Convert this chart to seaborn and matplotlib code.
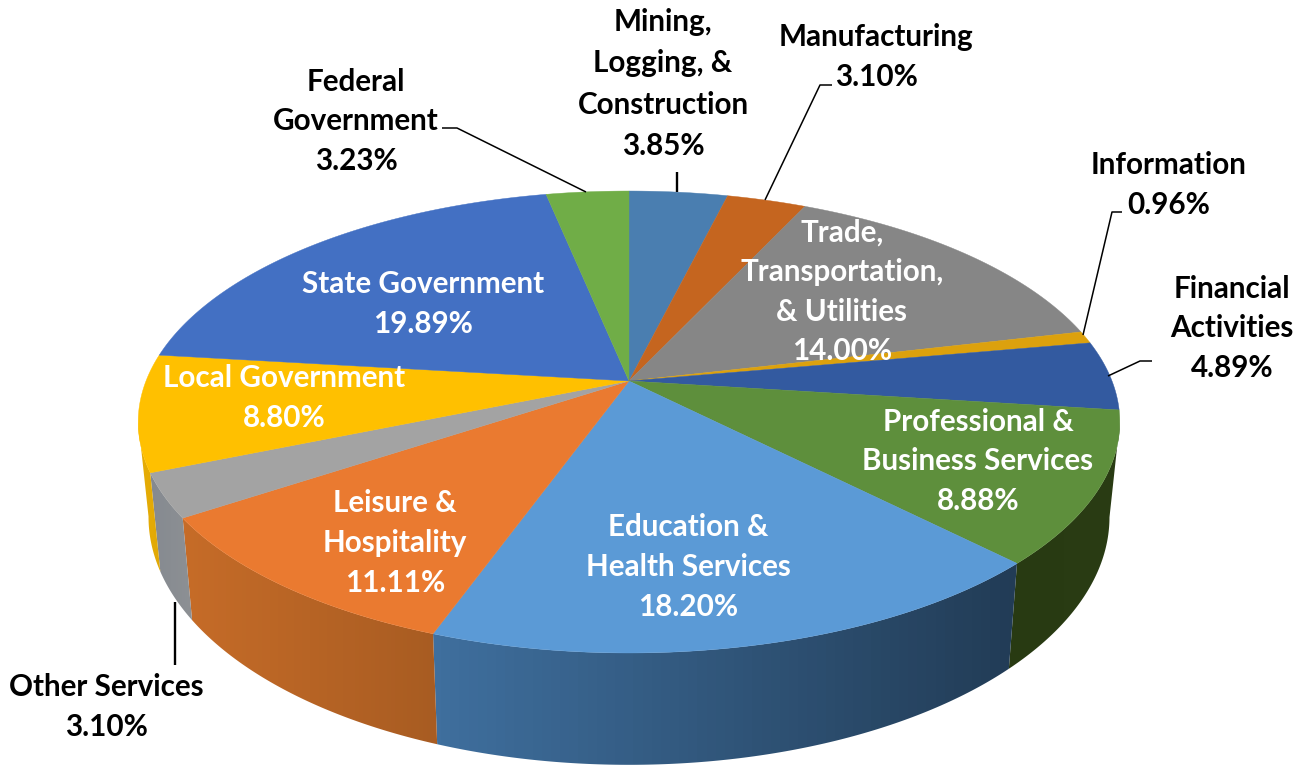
import numpy as np
import seaborn as sns
import matplotlib.pyplot as plt
from matplotlib.colors import LinearSegmentedColormap
from matplotlib.patches import Polygon

sectors = ['Mining,\nLogging, &\nConstruction', 'Manufacturing', 'Trade,\nTransportation,\n& Utilities',
           'Information', 'Financial\nActivities', 'Professional &\nBusiness Services',
           'Education &\nHealth Services', 'Leisure &\nHospitality', 'Other Services',
           'Local Government', 'State Government', 'Federal\nGovernment']
shares = [3.85, 3.10, 14.00, 0.96, 4.89, 8.88, 18.20, 11.11, 3.10, 8.80, 19.89, 3.23]
top_colors = ['#4a7eb0', '#c5651f', '#868686', '#dca10d', '#335aa0', '#5e8f3c',
              '#5b9ad6', '#ea7a30', '#a3a3a3', '#ffc000', '#4370c3', '#70ad47']
# wall shading, left end and right end of each slice's wall
wall_left = ['#3a5f85', '#94501a', '#666666', '#a67a0a', '#26437a', '#283a12',
             '#3f6f9e', '#c66c28', '#858a90', '#e8ae06', '#33548f', '#55823a']
wall_right = ['#3a5f85', '#94501a', '#666666', '#a67a0a', '#26437a', '#2a3c14',
              '#223c56', '#a85c22', '#8d9094', '#e0a805', '#33548f', '#55823a']

sns.set_theme(style='white')
plt.rcParams['font.family'] = ['Lato', 'DejaVu Sans']

# where the outside labels and the labels on the slices go (centre x, centre y)
label_pos = [(663, 84), (876, 57), (842, 292), (1169, 185), (1232, 328), (978, 461),
             (688, 567), (395, 543), (106, 707), (284, 398), (423, 304), (356, 121)]
label_white = [False, False, True, False, False, True, True, True, False, True, True, False]
label_gap = [1.58, 1.5, 1.5, 1.5, 1.5, 1.5, 1.5, 1.5, 1.5, 1.5, 1.5, 1.5]

leaders = [[(442, 128), (457, 128), (586, 192)],
           [(677, 172), (677, 192)],
           [(832, 85), (820, 85), (765, 200)],
           [(1122, 212), (1112, 212), (1083, 335)],
           [(1152, 361), (1140, 361), (1108, 376)],
           [(175, 602), (175, 665)]]

# perspective of the disc
cx, cy = 629, 381
a, b, k = 483, 223.7, 0.1775
depth, shrink = 92, 0.979


def warp(deg):
    # the excel camera squeezes the front right of the pie a bit
    return np.interp(deg, [0, 25, 75.4, 78.9, 96.5, 128.4, 194, 234, 245.1, 276.8, 360],
                     [0, 25, 76.8, 79.9, 97.3, 135.4, 199.8, 236.5, 247.5, 276.8, 360])


def top_xy(deg):
    t = np.radians(warp(deg))
    u, v = np.sin(t), np.cos(t)
    w = 1 + k * v
    return cx + a * u / w, cy - b * v / w


def bottom_xy(deg):
    x, y = top_xy(deg)
    w = 1 + k * np.cos(np.radians(warp(deg)))
    return cx + (x - cx) * shrink, y + depth / w


fig, ax = plt.subplots(figsize=(13.04, 7.65), dpi=100)
fig.subplots_adjust(0, 0, 1, 1)
ax.axis('off')

edges = np.concatenate([[0], np.cumsum(shares)]) / sum(shares) * 360

# only the front of the wall shows, between the widest points of the disc
sweep = np.linspace(0, 360, 1441)
sweep_x = top_xy(sweep)[0]
front_from, front_to = sweep[sweep_x.argmax()], sweep[sweep_x.argmin()]

# side wall first, a gradient image clipped to each slice's wall
for i in range(len(shares)):
    lo, hi = max(edges[i], front_from), min(edges[i + 1], front_to)
    if hi <= lo:
        continue
    d = np.linspace(lo, hi, 120)
    tx, ty = top_xy(d)
    bx, by = bottom_xy(d)
    verts = np.c_[np.r_[tx, bx[::-1]], np.r_[ty, by[::-1]]]
    poly = Polygon(verts, closed=True, transform=ax.transData, fc='none', ec='none')
    ax.add_patch(poly)
    cmap = LinearSegmentedColormap.from_list('wall', [wall_left[i], wall_right[i]])
    img = ax.imshow(np.linspace(0, 1, 64)[None, :], cmap=cmap, aspect='auto', zorder=1,
                    extent=(verts[:, 0].min() - 1, verts[:, 0].max() + 1,
                            verts[:, 1].max() + 1, verts[:, 1].min() - 1))
    img.set_clip_path(poly)

ax.set_xlim(0, 1304)
ax.set_ylim(765, 0)

# top of the pie
palette = sns.color_palette(top_colors)
for i in range(len(shares)):
    d = np.linspace(edges[i], edges[i + 1], 80)
    x, y = top_xy(d)
    ax.fill(np.r_[cx, x], np.r_[cy, y], color=palette[i], lw=0.3, zorder=2)

for line in leaders:
    xs, ys = zip(*line)
    ax.plot(xs, ys, color='black', lw=1.7 if len(line) == 2 else 1.1, zorder=3, solid_capstyle='butt')

for name, val, pos, white, gap in zip(sectors, shares, label_pos, label_white, label_gap):
    ax.text(pos[0], pos[1], f'{name}\n{val:.2f}%', ha='center', va='center',
            color='white' if white else 'black', fontsize=21.3, fontweight='bold',
            linespacing=gap, zorder=4)

plt.savefig('out.png', dpi=100)
